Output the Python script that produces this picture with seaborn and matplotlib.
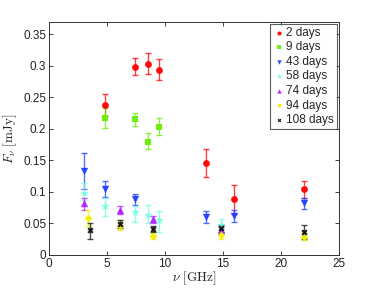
import numpy as np
import pandas as pd
import matplotlib
matplotlib.use("Agg")
import matplotlib.pyplot as plt
import seaborn as sns

# ---- data ----
labels = ["2 days", "9 days", "43 days", "58 days", "74 days", "94 days", "108 days"]

freq_2 = [4.8, 7.4, 8.5, 9.5, 13.5, 16.0, 22.0]
flux_2 = [0.238, 0.299, 0.303, 0.294, 0.146, 0.088, 0.104]
lo_2 = [0.220, 0.286, 0.287, 0.277, 0.123, 0.065, 0.091]
hi_2 = [0.255, 0.312, 0.320, 0.311, 0.168, 0.111, 0.117]

freq_9 = [4.8, 7.4, 8.5, 9.5]
flux_9 = [0.218, 0.215, 0.180, 0.203]
lo_9 = [0.202, 0.204, 0.168, 0.191]
hi_9 = [0.234, 0.226, 0.193, 0.217]

freq_43 = [3.0, 4.8, 7.4, 13.5, 16.0, 22.0]
flux_43 = [0.133, 0.105, 0.088, 0.060, 0.062, 0.083]
lo_43 = [0.104, 0.092, 0.080, 0.051, 0.052, 0.073]
hi_43 = [0.161, 0.118, 0.097, 0.070, 0.071, 0.090]

freq_58 = [3.0, 4.8, 7.4, 8.5, 9.5, 14.8]
flux_58 = [0.098, 0.077, 0.068, 0.064, 0.055, 0.047]
lo_58 = [0.087, 0.061, 0.053, 0.050, 0.037, 0.037]
hi_58 = [0.114, 0.090, 0.077, 0.079, 0.070, 0.057]

freq_74 = [3.0, 6.1, 9.0, 14.8]
flux_74 = [0.083, 0.071, 0.057, 0.040]
lo_74 = [0.072, 0.065, 0.050, 0.035]
hi_74 = [0.090, 0.077, 0.062, 0.045]

freq_94 = [3.4, 6.1, 9.0, 14.8, 22.0]
flux_94 = [0.058, 0.046, 0.030, 0.032, 0.029]
lo_94 = [0.046, 0.039, 0.025, 0.025, 0.023]
hi_94 = [0.072, 0.055, 0.037, 0.040, 0.036]

freq_108 = [3.5, 6.1, 9.0, 14.8, 22.0]
flux_108 = [0.039, 0.049, 0.041, 0.043, 0.037]
lo_108 = [0.025, 0.043, 0.036, 0.037, 0.025]
hi_108 = [0.050, 0.055, 0.046, 0.048, 0.048]

xticks = [0, 5, 10, 15, 20, 25]
yticks = [0, 0.05, 0.1, 0.15, 0.2, 0.25, 0.3, 0.35]
ytick_labels = ["0", "0.05", "0.1", "0.15", "0.2", "0.25", "0.3", "0.35"]

series = [
    (freq_2, flux_2, lo_2, hi_2),
    (freq_9, flux_9, lo_9, hi_9),
    (freq_43, flux_43, lo_43, hi_43),
    (freq_58, flux_58, lo_58, hi_58),
    (freq_74, flux_74, lo_74, hi_74),
    (freq_94, flux_94, lo_94, hi_94),
    (freq_108, flux_108, lo_108, hi_108),
]

colors = ["#ff0000", "#66ee00", "#1f3fff", "#70ffe0", "#b020ff", "#f0f000", "#111111"]
markers = ["o", "s", "v", "*", "^", "D", "X"]
sizes = [24, 18, 28, 42, 28, 16, 20]

rows = []
for lab, (f, v, lo, hi) in zip(labels, series):
    for fi, vi, l, h in zip(f, v, lo, hi):
        rows.append(dict(epoch=lab, freq=fi, flux=vi, lo=l, hi=h))
df = pd.DataFrame(rows)

sns.set_style("ticks")
plt.rcParams["mathtext.fontset"] = "cm"
plt.rcParams["font.family"] = ["Liberation Sans", "DejaVu Sans"]

fig = plt.figure(figsize=(3.74, 2.88), dpi=100)
ax = fig.add_axes([0.131, 0.115, 0.775, 0.809])

for lab, col in zip(labels, colors):
    sub = df[df.epoch == lab]
    ax.errorbar(sub.freq, sub.flux,
                yerr=[sub.flux - sub.lo, sub.hi - sub.flux],
                fmt="none", ecolor=col, elinewidth=1.0, capsize=2.2,
                capthick=1.0, alpha=0.75, zorder=2)

for lab, col, m, s in zip(labels, colors, markers, sizes):
    sub = df[df.epoch == lab]
    sns.scatterplot(data=sub, x="freq", y="flux", ax=ax, color=col,
                    marker=m, s=s, linewidth=0, label=lab, zorder=3,
                    alpha=0.95)

ax.set_xlim(0, 25)
ax.set_ylim(0, 0.37)
ax.set_xticks(xticks)
ax.set_yticks(yticks)
ax.set_yticklabels(ytick_labels)
ax.tick_params(direction="in", top=True, right=True, length=3, width=0.6,
               labelsize=8.5, colors="#222222", pad=2)
for sp in ax.spines.values():
    sp.set_linewidth(0.7)
    sp.set_color("#333333")

ax.set_xlabel(r"$\nu\ \mathrm{[GHz]}$", fontsize=9.5, labelpad=0)
ax.set_ylabel(r"$F_\nu\ \mathrm{[mJy]}$", fontsize=9.5, labelpad=3)

leg = ax.legend(loc="upper right", fontsize=8.5, frameon=True, fancybox=False,
                borderaxespad=0.15, handletextpad=0.2, borderpad=0.25,
                labelspacing=0.22, handlelength=0.9, markerscale=0.6)
leg.get_frame().set_edgecolor("#333333")
leg.get_frame().set_linewidth(0.8)

fig.savefig("out.png", dpi=100)
